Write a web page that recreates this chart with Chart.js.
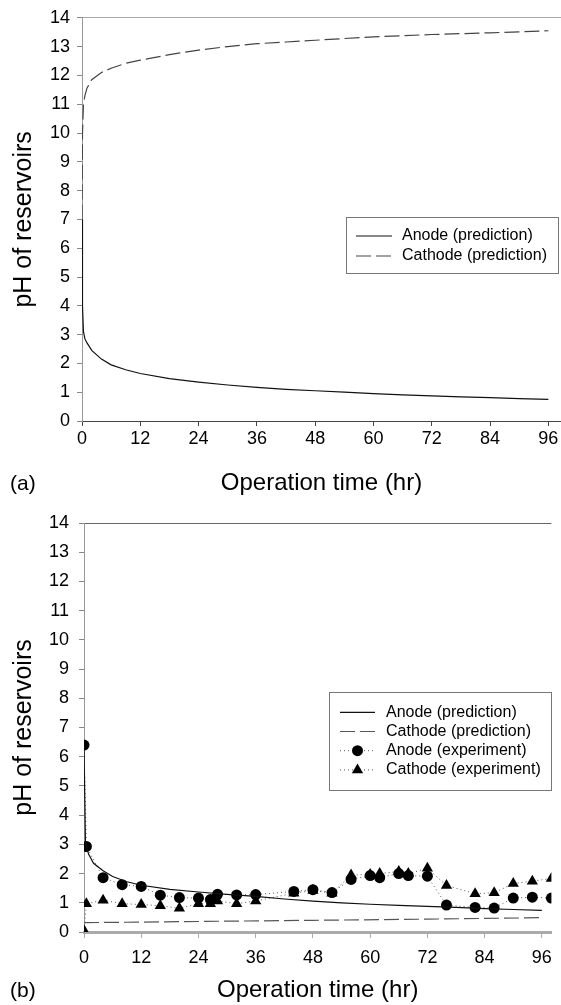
<!DOCTYPE html>
<html lang="en">
<head>
<meta charset="UTF-8">
<title>pH of reservoirs</title>
<script src="https://cdn.jsdelivr.net/npm/chart.js"></script>
<style>
  body { margin: 0; background: #fff; font-family: 'Liberation Sans', Arial, sans-serif; }
  .panel { position: absolute; left: 0; width: 561px; }
  #panelA { top: 0; height: 500px; }
  #panelB { top: 500px; height: 505px; }
  canvas { display: block; }
  .tag { position: absolute; left: 10px; font-size: 21px; line-height: 24px; color: #000; }
</style>
</head>
<body>
  <div class="panel" id="panelA">
    <canvas id="chartA" width="561" height="500"></canvas>
    <div class="tag" style="top:471px">(a)</div>
  </div>
  <div class="panel" id="panelB">
    <canvas id="chartB" width="561" height="505"></canvas>
    <div class="tag" style="top:478px">(b)</div>
  </div>

<script>
// axis ticks
const xTicks = [0, 12, 24, 36, 48, 60, 72, 84, 96];
const yTicks = [0, 1, 2, 3, 4, 5, 6, 7, 8, 9, 10, 11, 12, 13, 14];

// (a) predictions
const predTimeA = [0, 0.1, 0.3, 0.6, 1, 2, 4, 6, 9, 12, 18, 24, 30, 36, 42, 48, 54, 60, 66, 72, 78, 84, 90, 96];
const anodePredA = [7, 4.0, 3.1, 2.85, 2.72, 2.45, 2.15, 1.95, 1.78, 1.65, 1.47, 1.35, 1.25, 1.17, 1.1, 1.05, 1.0, 0.95, 0.91, 0.87, 0.84, 0.81, 0.78, 0.75];
const cathodePredA = [7, 10.0, 11.0, 11.3, 11.55, 11.85, 12.1, 12.25, 12.42, 12.53, 12.72, 12.88, 13.0, 13.1, 13.16, 13.22, 13.28, 13.34, 13.38, 13.42, 13.45, 13.48, 13.51, 13.55];

// (b) predictions
const anodeTimeB = [0, 0.3, 0.6, 1, 2, 4, 6, 9, 12, 18, 24, 30, 36, 42, 48, 54, 60, 66, 72, 78, 84, 90, 96];
const anodePredB = [6.4, 3.1, 2.85, 2.65, 2.35, 2.1, 1.9, 1.72, 1.6, 1.46, 1.37, 1.29, 1.22, 1.13, 1.06, 1.0, 0.95, 0.91, 0.88, 0.84, 0.8, 0.77, 0.74];
const cathodeTimeB = [0, 24, 48, 72, 96];
const cathodePredB = [0.32, 0.36, 0.40, 0.44, 0.49];

// (b) experiments
const expTimeB = [0, 0.5, 4, 8, 12, 16, 20, 24, 26.5, 28, 32, 36, 44, 48, 52, 56, 60, 62, 66, 68, 72, 76, 82, 86, 90, 94, 98];
const expAnodeB = [6.4, 2.93, 1.86, 1.62, 1.56, 1.26, 1.18, 1.16, 1.11, 1.29, 1.27, 1.28, 1.39, 1.45, 1.35, 1.8, 1.93, 1.86, 2.0, 1.93, 1.91, 0.92, 0.84, 0.82, 1.16, 1.19, 1.16];
const expCathodeB = [0.05, 0.97, 1.09, 0.97, 0.94, 0.9, 0.81, 0.97, 0.97, 1.06, 0.97, 1.06, 1.33, 1.42, 1.33, 1.95, 1.97, 2.0, 2.07, 2.0, 2.18, 1.59, 1.31, 1.34, 1.66, 1.74, 1.83];

const FONT = "'Liberation Sans', Arial, sans-serif";
const pts = (xs, ys) => xs.map((x, i) => ({ x: x, y: ys[i] }));

function drawMarker(ctx, style, r, x, y, color) {
  ctx.fillStyle = color;
  ctx.beginPath();
  if (style === 'triangle') {
    let a = 0;
    ctx.moveTo(x + Math.sin(a) * r, y - Math.cos(a) * r);
    a += Math.PI * 2 / 3;
    ctx.lineTo(x + Math.sin(a) * r, y - Math.cos(a) * r);
    a += Math.PI * 2 / 3;
    ctx.lineTo(x + Math.sin(a) * r, y - Math.cos(a) * r);
    ctx.closePath();
  } else {
    ctx.arc(x, y, r, 0, Math.PI * 2);
  }
  ctx.fill();
}

// legend box drawn inside the plot, like the original figure
const boxLegend = {
  id: 'boxLegend',
  afterDraw(chart, args, o) {
    const ctx = chart.ctx;
    ctx.save();
    ctx.fillStyle = '#fff';
    ctx.fillRect(o.left, o.top, o.width, o.height);
    ctx.strokeStyle = '#777';
    ctx.lineWidth = 1;
    ctx.strokeRect(o.left + 0.5, o.top + 0.5, o.width, o.height);
    ctx.font = '16px ' + FONT;
    ctx.textBaseline = 'middle';
    chart.data.datasets.forEach((ds, i) => {
      const y = o.firstRow + i * o.rowGap;
      ctx.beginPath();
      ctx.setLineDash(ds.borderDash || []);
      ctx.strokeStyle = ds.borderColor;
      ctx.lineWidth = ds.borderWidth;
      ctx.moveTo(o.sampleFrom, y);
      ctx.lineTo(o.sampleTo, y);
      ctx.stroke();
      ctx.setLineDash([]);
      if (ds.pointRadius > 0) {
        drawMarker(ctx, ds.pointStyle, ds.pointRadius, (o.sampleFrom + o.sampleTo) / 2, y, ds.pointBackgroundColor);
      }
      ctx.fillStyle = '#000';
      ctx.fillText(ds.label, o.textX, y);
    });
    ctx.restore();
  }
};

function makeChart(id, datasets, f) {
  return new Chart(document.getElementById(id), {
    type: 'scatter',
    data: { datasets: datasets },
    options: {
      responsive: false,
      animation: false,
      events: [],
      layout: { padding: { top: f.top, left: 0, right: 0, bottom: 0 } },
      plugins: {
        legend: { display: false },
        tooltip: { enabled: false },
        boxLegend: f.legend
      },
      scales: {
        x: {
          type: 'linear',
          min: 0,
          max: f.xMax,
          afterBuildTicks: s => { s.ticks = xTicks.map(v => ({ value: v })); },
          afterFit: s => { s.height = f.xAxisHeight; },
          ticks: { color: '#000', font: { family: FONT, size: 18 }, padding: f.xTickPad, maxRotation: 0, autoSkip: false },
          grid: { drawOnChartArea: false, tickLength: f.xTickLen, tickColor: f.xAxisColor },
          border: { color: f.xAxisColor, width: f.xAxisWidth },
          title: {
            display: true, text: 'Operation time (hr)', color: '#000',
            font: { family: FONT, size: 24 }, padding: { top: 0, bottom: f.xTitlePad }
          }
        },
        y: {
          type: 'linear',
          min: 0,
          max: 14,
          afterBuildTicks: s => { s.ticks = yTicks.map(v => ({ value: v })); },
          afterFit: s => { s.width = f.yAxisWidth; },
          ticks: { color: '#000', font: { family: FONT, size: 18 }, padding: f.yTickPad },
          grid: {
            color: c => (c.tick && c.tick.value === 14 ? f.topLineColor : 'rgba(0,0,0,0)'),
            tickColor: '#888',
            tickLength: 5
          },
          border: { color: '#999', width: 1 },
          title: {
            display: true, text: 'pH of reservoirs', color: '#000',
            font: { family: FONT, size: 25 }, padding: { top: 9, bottom: 0 }
          }
        }
      }
    },
    plugins: [boxLegend]
  });
}

makeChart('chartA', [
  {
    label: 'Anode (prediction)', data: pts(predTimeA, anodePredA), showLine: true,
    borderColor: '#111', borderWidth: 1.2, pointRadius: 0
  },
  {
    label: 'Cathode (prediction)', data: pts(predTimeA, cathodePredA), showLine: true,
    borderColor: '#444', borderWidth: 1.2, borderDash: [15, 5], pointRadius: 0
  }
], {
  top: 17, xMax: 98.6, xAxisHeight: 79, yAxisWidth: 82,
  xTickPad: 2, xTickLen: 5, xAxisColor: '#444', xAxisWidth: 1, xTitlePad: 2.6,
  yTickPad: 7, topLineColor: '#aaa',
  legend: { left: 346, top: 217, width: 212, height: 56, firstRow: 236, rowGap: 20, sampleFrom: 356, sampleTo: 392, textX: 402 }
});

makeChart('chartB', [
  {
    label: 'Anode (prediction)', data: pts(anodeTimeB, anodePredB), showLine: true,
    borderColor: '#111', borderWidth: 1.2, pointRadius: 0
  },
  {
    label: 'Cathode (prediction)', data: pts(cathodeTimeB, cathodePredB), showLine: true,
    borderColor: '#555', borderWidth: 1.2, borderDash: [15, 5], pointRadius: 0
  },
  {
    label: 'Anode (experiment)', data: pts(expTimeB, expAnodeB), showLine: true,
    borderColor: '#555', borderWidth: 1, borderDash: [1, 3],
    pointStyle: 'circle', pointRadius: 5.5, pointBackgroundColor: '#000', pointBorderWidth: 0
  },
  {
    label: 'Cathode (experiment)', data: pts(expTimeB, expCathodeB), showLine: true,
    borderColor: '#555', borderWidth: 1, borderDash: [1, 3],
    pointStyle: 'triangle', pointRadius: 6.5, pointBackgroundColor: '#000', pointBorderWidth: 0
  }
], {
  top: 23, xMax: 98.0, xAxisHeight: 73, yAxisWidth: 84,
  xTickPad: 9, xTickLen: 6, xAxisColor: '#aaa', xAxisWidth: 3, xTitlePad: 0.6,
  yTickPad: 10, topLineColor: '#666',
  legend: { left: 329, top: 192, width: 222, height: 98, firstRow: 212.3, rowGap: 19.2, sampleFrom: 340, sampleTo: 375, textX: 386 }
});
</script>
</body>
</html>
